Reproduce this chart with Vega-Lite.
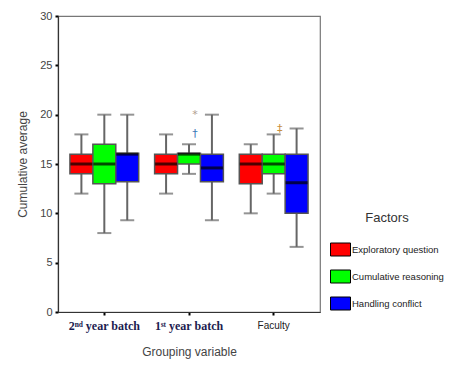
{
  "$schema": "https://vega.github.io/schema/vega-lite/v6.json",
  "autosize": "none",
  "width": 262,
  "height": 296,
  "padding": {"left": 58, "top": 16, "right": 134, "bottom": 53},
  "background": "white",
  "config": {
    "view": {"stroke": "#777", "strokeWidth": 1.2},
    "font": "Liberation Sans"
  },
  "datasets": {
    "boxes": [
      {"group": "2ⁿᵈ year batch", "factor": "Exploratory question", "lower": 12, "q1": 14, "median": 15, "q3": 16, "upper": 18},
      {"group": "2ⁿᵈ year batch", "factor": "Cumulative reasoning", "lower": 8, "q1": 13, "median": 15, "q3": 17, "upper": 20},
      {"group": "2ⁿᵈ year batch", "factor": "Handling conflict", "lower": 9.3, "q1": 13.2, "median": 16, "q3": 16.1, "upper": 20},
      {"group": "1ˢᵗ year batch", "factor": "Exploratory question", "lower": 12, "q1": 14, "median": 15, "q3": 16, "upper": 18},
      {"group": "1ˢᵗ year batch", "factor": "Cumulative reasoning", "lower": 14, "q1": 15, "median": 16, "q3": 16.1, "upper": 17},
      {"group": "1ˢᵗ year batch", "factor": "Handling conflict", "lower": 9.3, "q1": 13.2, "median": 14.6, "q3": 16, "upper": 20},
      {"group": "Faculty", "factor": "Exploratory question", "lower": 10, "q1": 13, "median": 15, "q3": 16, "upper": 17},
      {"group": "Faculty", "factor": "Cumulative reasoning", "lower": 12, "q1": 14, "median": 15, "q3": 16, "upper": 18},
      {"group": "Faculty", "factor": "Handling conflict", "lower": 6.6, "q1": 10, "median": 13.1, "q3": 16, "upper": 18.6}
    ],
    "outliers": [
      {"group": "1ˢᵗ year batch", "factor": "Cumulative reasoning", "value": 20, "symbol": "*", "col": "#b0a090"},
      {"group": "1ˢᵗ year batch", "factor": "Cumulative reasoning", "value": 18, "symbol": "†", "col": "#3a7ab8"},
      {"group": "Faculty", "factor": "Cumulative reasoning", "value": 18.5, "symbol": "‡", "col": "#c89040"}
    ]
  },
  "data": {"name": "boxes"},
  "encoding": {
    "x": {
      "field": "group", "type": "nominal", "sort": null,
      "scale": {"paddingInner": 0.188, "paddingOuter": 0.141},
      "axis": {
        "title": "Grouping variable",
        "titleFont": "Liberation Sans", "titleFontSize": 12, "titleFontWeight": "normal", "titleColor": "#444",
        "titlePadding": 15,
        "labelAngle": 0,
        "labelFont": {"condition": {"test": "datum.value == 'Faculty'", "value": "Liberation Sans"}, "value": "Liberation Serif"},
        "labelFontWeight": {"condition": {"test": "datum.value == 'Faculty'", "value": "normal"}, "value": "bold"},
        "labelFontSize": {"condition": {"test": "datum.value == 'Faculty'", "value": 10}, "value": 12},
        "labelColor": {"condition": {"test": "datum.value == 'Faculty'", "value": "#222"}, "value": "#1c1c50"},
        "labelPadding": 5,
        "tickColor": "#000", "tickSize": 3, "tickWidth": 2,
        "domainColor": "#333", "domainWidth": 1.2
      }
    },
    "xOffset": {"field": "factor", "type": "nominal", "sort": null, "scale": {"paddingInner": 0, "paddingOuter": 0}},
    "color": {
      "field": "factor", "type": "nominal", "sort": null,
      "scale": {"domain": ["Exploratory question", "Cumulative reasoning", "Handling conflict"], "range": ["#ff0000", "#00ff00", "#0000ff"]},
      "legend": {
        "title": "Factors",
        "orient": "none", "legendX": 272, "legendY": 196,
        "titleFont": "Liberation Sans", "titleFontSize": 13, "titleFontWeight": "normal", "titleColor": "#333",
        "titleAnchor": "middle", "titlePadding": 14,
        "labelFont": "Liberation Sans", "labelFontSize": 9.5, "labelColor": "#222", "labelOffset": 1,
        "symbolType": "M-1,-0.65L1,-0.65L1,0.65L-1,0.65Z", "symbolSize": 400,
        "symbolStrokeColor": "#000", "symbolStrokeWidth": 1, "symbolOpacity": 1,
        "rowPadding": 8
      }
    }
  },
  "layer": [
    {
      "mark": {"type": "rule", "color": "#666", "strokeWidth": 2},
      "encoding": {
        "y": {"field": "lower", "type": "quantitative",
          "scale": {"domain": [0, 30], "nice": false},
          "axis": {
            "title": "Cumulative average", "titleFont": "Liberation Sans", "titleFontSize": 12, "titleFontWeight": "normal", "titleColor": "#444",
            "titlePadding": 10,
            "values": [0, 5, 10, 15, 20, 25, 30], "grid": false,
            "labelFont": "Liberation Sans", "labelFontSize": 11, "labelColor": "#444", "labelPadding": 3,
            "tickColor": "#000", "tickSize": 3, "tickWidth": 2,
            "domainColor": "#333", "domainWidth": 1.2
          }
        },
        "y2": {"field": "upper"},
        "color": {"value": "#666"}
      }
    },
    {
      "mark": {"type": "tick", "color": "#666", "size": 14, "thickness": 2},
      "encoding": {"y": {"field": "lower", "type": "quantitative"}, "color": {"value": "#666"}}
    },
    {
      "mark": {"type": "tick", "color": "#666", "size": 14, "thickness": 2},
      "encoding": {"y": {"field": "upper", "type": "quantitative"}, "color": {"value": "#666"}}
    },
    {
      "mark": {"type": "bar", "stroke": "#555", "strokeWidth": 1.5, "opacity": 1},
      "encoding": {"y": {"field": "q1", "type": "quantitative"}, "y2": {"field": "q3"}}
    },
    {
      "mark": {"type": "tick", "color": "#000", "size": 22, "thickness": 3},
      "encoding": {"y": {"field": "median", "type": "quantitative"}, "color": {"value": "#000"}}
    },
    {
      "data": {"name": "outliers"},
      "mark": {"type": "text", "fontSize": 11, "dx": 6, "font": "DejaVu Sans"},
      "encoding": {
        "y": {"field": "value", "type": "quantitative"},
        "text": {"field": "symbol"},
        "color": {"field": "col", "type": "nominal", "scale": null, "legend": null}
      }
    }
  ]
}
